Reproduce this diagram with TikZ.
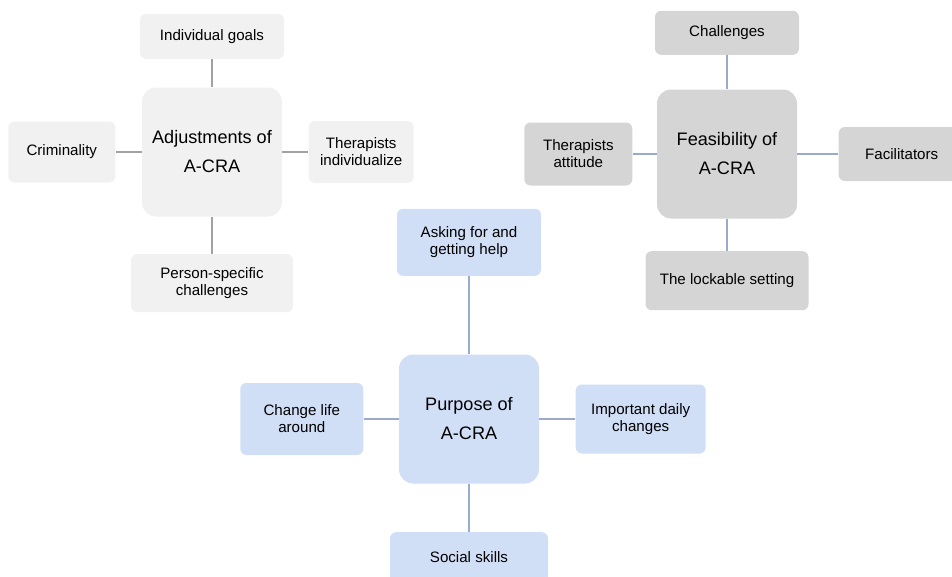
\documentclass[tikz,border=0pt]{standalone}
\usepackage{fontspec}
\setmainfont{Liberation Sans}
\usetikzlibrary{positioning}

\definecolor{lightgrey}{HTML}{F1F1F1}
\definecolor{midgrey}{HTML}{D5D5D5}
\definecolor{paleblue}{HTML}{D0DEF6}
\definecolor{greyline}{HTML}{A2A2A2}
\definecolor{blueline}{HTML}{9AA9CC}

\begin{document}
\begin{tikzpicture}[
			hub/.style={rectangle, rounded corners=8pt, minimum width=2.8cm, minimum height=2.58cm, align=center, inner sep=0pt, font=\fontsize{10.3}{16.5}\selectfont},
			leaf/.style={rectangle, rounded corners=3.5pt, align=center, inner sep=0pt, font=\fontsize{8.6}{9.6}\selectfont},
			link/.style={line width=0.8pt}
			]
			\useasboundingbox (0,0) rectangle (19.04,-11.54);
			
			% Adjustments
			\node[hub, fill=lightgrey] (adjust) at (4.24,-3.04) {Adjustments of\\A-CRA};
			\node[leaf, fill=lightgrey, minimum width=2.88cm, minimum height=0.9cm, above=0.56cm of adjust] (goals) {Individual goals};
			\node[leaf, fill=lightgrey, minimum width=2.14cm, minimum height=1.22cm, left=0.52cm of adjust] (crime) {Criminality};
			\node[leaf, fill=lightgrey, minimum width=2.1cm, minimum height=1.24cm, right=0.52cm of adjust] (individ) {Therapists\\individualize};
			\node[leaf, fill=lightgrey, minimum width=3.24cm, minimum height=1.16cm, below=0.74cm of adjust] (person) {Person-specific\\challenges};
			
			% Feasibility
			\node[hub, fill=midgrey] (feasible) at (14.54,-3.08) {Feasibility of\\A-CRA};
			\node[leaf, fill=midgrey, minimum width=2.88cm, minimum height=0.88cm, above=0.68cm of feasible] (challenges) {Challenges};
			\node[leaf, fill=midgrey, minimum width=2.16cm, minimum height=1.26cm, left=0.48cm of feasible] (attitude) {Therapists\\attitude};
			\node[leaf, fill=midgrey, minimum width=2.52cm, minimum height=1.08cm, right=0.82cm of feasible] (facil) {Facilitators};
			\node[leaf, fill=midgrey, minimum width=3.26cm, minimum height=1.18cm, below=0.64cm of feasible] (lockable) {The lockable setting};
			
			% Purpose
			\node[hub, fill=paleblue] (purpose) at (9.38,-8.38) {Purpose of\\A-CRA};
			\node[leaf, fill=paleblue, minimum width=2.88cm, minimum height=1.34cm, above=1.56cm of purpose] (help) {Asking for and\\getting help};
			\node[leaf, fill=paleblue, minimum width=2.46cm, minimum height=1.44cm, left=0.7cm of purpose] (life) {Change life\\around};
			\node[leaf, fill=paleblue, minimum width=2.6cm, minimum height=1.38cm, right=0.72cm of purpose] (daily) {Important daily\\changes};
			\node[leaf, fill=paleblue, minimum width=3.16cm, minimum height=1.0cm, below=0.96cm of purpose] (social) {Social skills};
			
			% Links
			\draw[link, greyline] (adjust) -- (goals);
			\draw[link, greyline] (adjust) -- (crime);
			\draw[link, greyline] (adjust) -- (individ);
			\draw[link, greyline] (adjust) -- (person);
			\draw[link, blueline] (feasible) -- (challenges);
			\draw[link, blueline] (feasible) -- (attitude);
			\draw[link, blueline] (feasible) -- (facil);
			\draw[link, blueline] (feasible) -- (lockable);
			\draw[link, blueline] (purpose) -- (help);
			\draw[link, blueline] (purpose) -- (life);
			\draw[link, blueline] (purpose) -- (daily);
			\draw[link, blueline] (purpose) -- (social);
		\end{tikzpicture}
\end{document}
